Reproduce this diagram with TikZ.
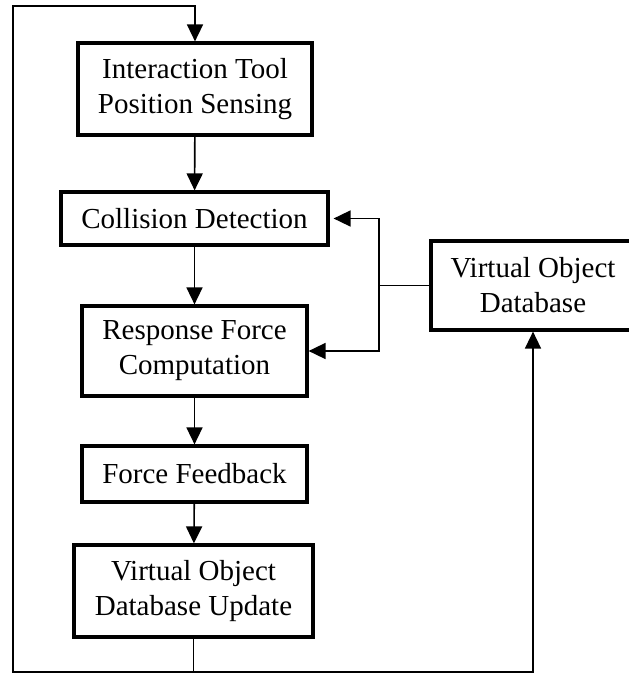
\documentclass[tikz,border=0pt]{standalone}
\usepackage{fontspec}
\setmainfont{Liberation Serif}
\usetikzlibrary{arrows.meta}
\begin{document}
\begin{tikzpicture}[x=0.5pt,y=-0.5pt,
  box/.style={draw=black,line width=1.6pt,fill=white,align=center,inner sep=0pt,
    font=\fontsize{14.5}{17.5}\selectfont},
  conn/.style={draw=black,line width=0.8pt},
  tip/.style={-{Triangle[length=8.5pt,width=8pt]}}]
\useasboundingbox (0,0) rectangle (628,674);
\node[box,minimum width=117pt,minimum height=46pt] (b1) at (195,89) {Interaction Tool\\Position Sensing};
\node[box,minimum width=133.5pt,minimum height=26.5pt] (cd) at (194.5,218.5) {Collision Detection};
\node[box,minimum width=112.5pt,minimum height=45pt] (rf) at (194.5,351) {Response Force\\Computation};
\node[box,minimum width=112.5pt,minimum height=28pt] (ff) at (194.5,474) {Force Feedback};
\node[box,minimum width=119.5pt,minimum height=46pt] (b5) at (193.5,591) {Virtual Object\\Database Update};
\node[box,minimum width=102pt,minimum height=44.5pt] (vod) at (533,285.5) {Virtual Object\\Database};
\coordinate (cBL) at (13,672);
\coordinate (cTL) at (13,6);
\coordinate (cBR) at (533,672);
\coordinate (cJ) at (379,285.5);
\draw[conn,tip] (b1) -- (cd);
\draw[conn,tip] (cd) -- (rf);
\draw[conn,tip] (rf) -- (ff);
\draw[conn,tip] (ff) -- (b5);
\draw[conn,tip] (b5.south) |- (cBL) -- (cTL) -| (b1.north);
\draw[conn,tip] (b5.south |- cBR) -- (cBR) -- (vod.south);
\draw[conn] (vod.west) -- (cJ);
\draw[conn,tip] (cJ) |- ([xshift=2pt]cd.east);
\draw[conn,tip] (cJ) |- (rf.east);
\end{tikzpicture}
\end{document}
